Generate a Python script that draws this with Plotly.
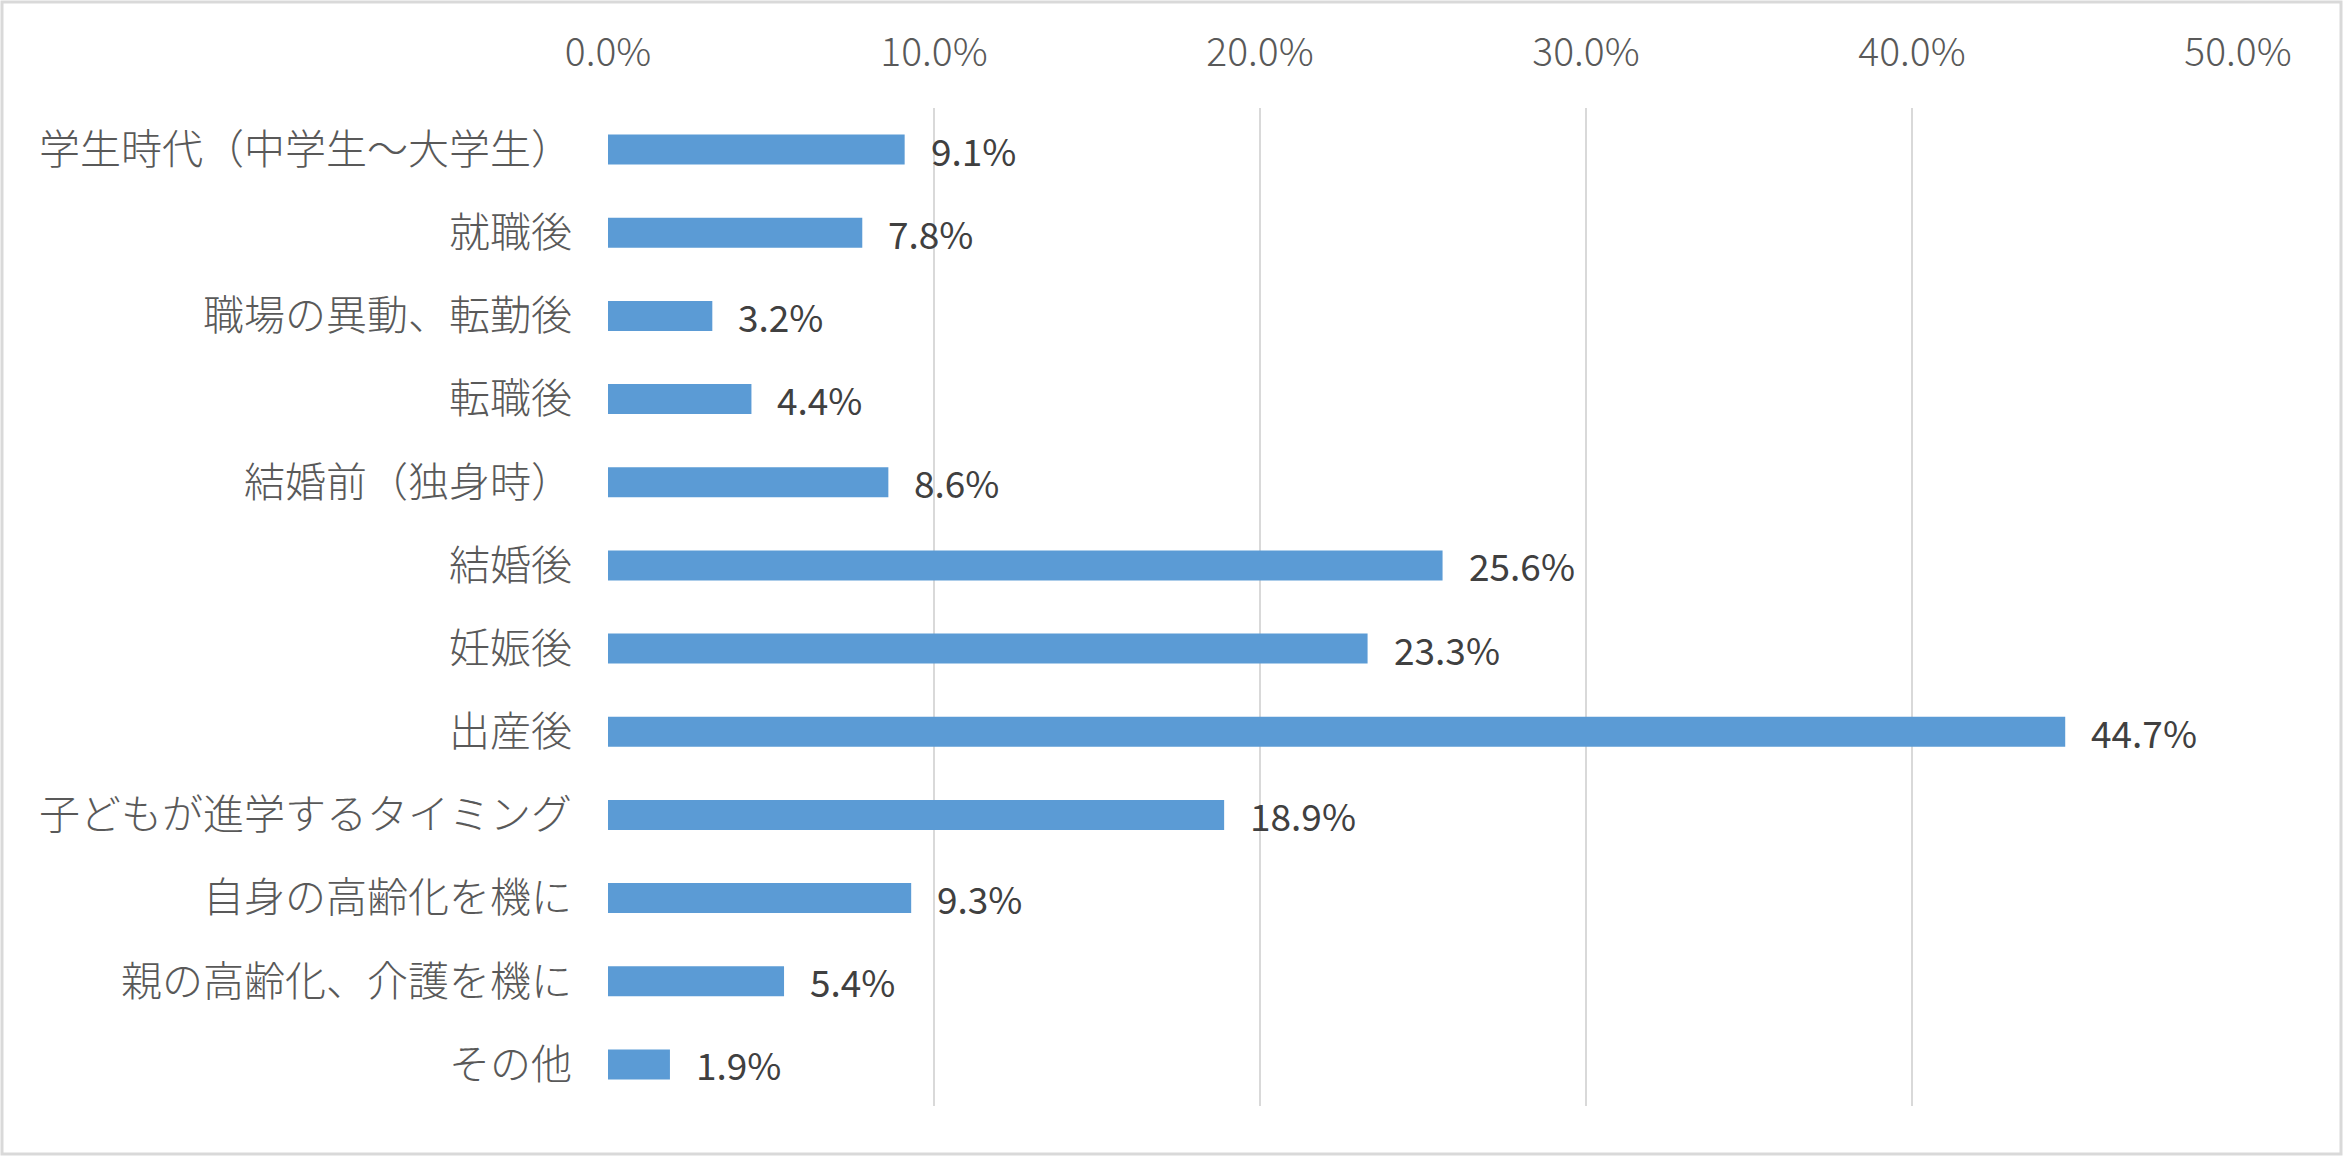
import plotly.graph_objects as go

categories = [
    "学生時代（中学生～大学生）",
    "就職後",
    "職場の異動、転勤後",
    "転職後",
    "結婚前（独身時）",
    "結婚後",
    "妊娠後",
    "出産後",
    "子どもが進学するタイミング",
    "自身の高齢化を機に",
    "親の高齢化、介護を機に",
    "その他",
]
values = [9.1, 7.8, 3.2, 4.4, 8.6, 25.6, 23.3, 44.7, 18.9, 9.3, 5.4, 1.9]
tick_vals = [0, 10, 20, 30, 40, 50]
tick_text = ["0.0%", "10.0%", "20.0%", "30.0%", "40.0%", "50.0%"]

W, H = 2343, 1156
ml, mr, mt, mb = 608, 105, 108, 50
pw, ph = W - ml - mr, H - mt - mb

FONT = "Noto Sans CJK JP, Noto Sans, sans-serif"

fig = go.Figure()
fig.add_trace(go.Bar(
    y=categories,
    x=values,
    orientation="h",
    marker=dict(color="#5B9BD5", line=dict(width=0)),
    width=0.36,
    hoverinfo="skip",
))

annotations = []
for c, v in zip(categories, values):
    annotations.append(dict(
        x=v, y=c, xref="x", yref="y",
        text=f"{v:.1f}%", showarrow=False,
        xanchor="left", yanchor="middle", xshift=24,
        font=dict(family=FONT, size=37, color="#404040", weight=400),
    ))

fig.update_layout(
    width=W, height=H,
    margin=dict(l=ml, r=mr, t=mt, b=mb, pad=0),
    paper_bgcolor="white",
    plot_bgcolor="white",
    showlegend=False,
    font=dict(family=FONT, color="#595959"),
    annotations=annotations,
    shapes=[dict(
        type="rect", xref="paper", yref="paper",
        x0=(2 - ml) / pw, x1=(W - 2 - ml) / pw,
        y0=-(H - 2 - (H - mb)) / ph, y1=((H - mb) - 2) / ph,
        line=dict(color="#D9D9D9", width=3),
        fillcolor="rgba(0,0,0,0)",
        layer="below",
    )],
)

fig.update_xaxes(
    side="top",
    range=[0, 50],
    tickvals=tick_vals,
    ticktext=tick_text,
    showgrid=True,
    gridcolor="#D9D9D9",
    gridwidth=2,
    zeroline=False,
    showline=False,
    ticks="",
    ticklabelstandoff=33,
    tickfont=dict(family=FONT, size=39, color="#595959", weight=300),
)
fig.update_yaxes(
    autorange="reversed",
    showgrid=False,
    zeroline=False,
    showline=False,
    ticks="",
    ticklabelstandoff=35,
    tickfont=dict(family=FONT, size=41, color="#595959", weight=300),
)

fig.write_html(
    "out.html",
    config={"displayModeBar": False},
    post_script="document.body.style.margin='0';document.body.style.padding='0';",
)
